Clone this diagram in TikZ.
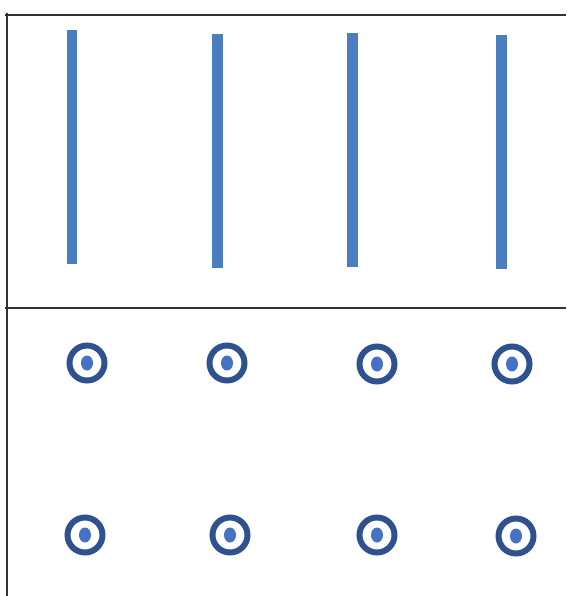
\documentclass[tikz,border=0pt]{standalone}
\usepackage{tikz}
\definecolor{barblue}{RGB}{74,126,192}
\definecolor{ringblue}{RGB}{47,82,143}
\definecolor{dotblue}{RGB}{68,114,196}
\definecolor{framegray}{RGB}{50,50,50}
\tikzset{
  frameline/.style={draw=framegray, line width=1.8pt},
  wirebar/.style={fill=barblue, draw=none},
  ring/.style={draw=ringblue, line width=6pt},
  dotcore/.style={fill=dotblue, draw=none}
}
\begin{document}
\begin{tikzpicture}[x=1pt, y=-1pt]
  \useasboundingbox (0,0) rectangle (566,596);
  % frame
  \draw[frameline] (5,15) -- (566,15);
  \draw[frameline] (7,13) -- (7,596);
  \draw[frameline] (5,308) -- (566,308);
  % vertical bars
  \fill[wirebar] (67,30) rectangle (77,264);
  \fill[wirebar] (212,34) rectangle (223,268);
  \fill[wirebar] (347,33) rectangle (358,267);
  \fill[wirebar] (496,35) rectangle (507,269);
  % rings
  \foreach \cx/\cy in {87/363, 227/363, 377/364, 512/364, 85/535, 230/535, 377/535, 516/536} {
    \draw[ring] (\cx,\cy) circle (17.5);
    \fill[dotcore] (\cx,\cy) ellipse (6 and 7.5);
  }
\end{tikzpicture}
\end{document}
